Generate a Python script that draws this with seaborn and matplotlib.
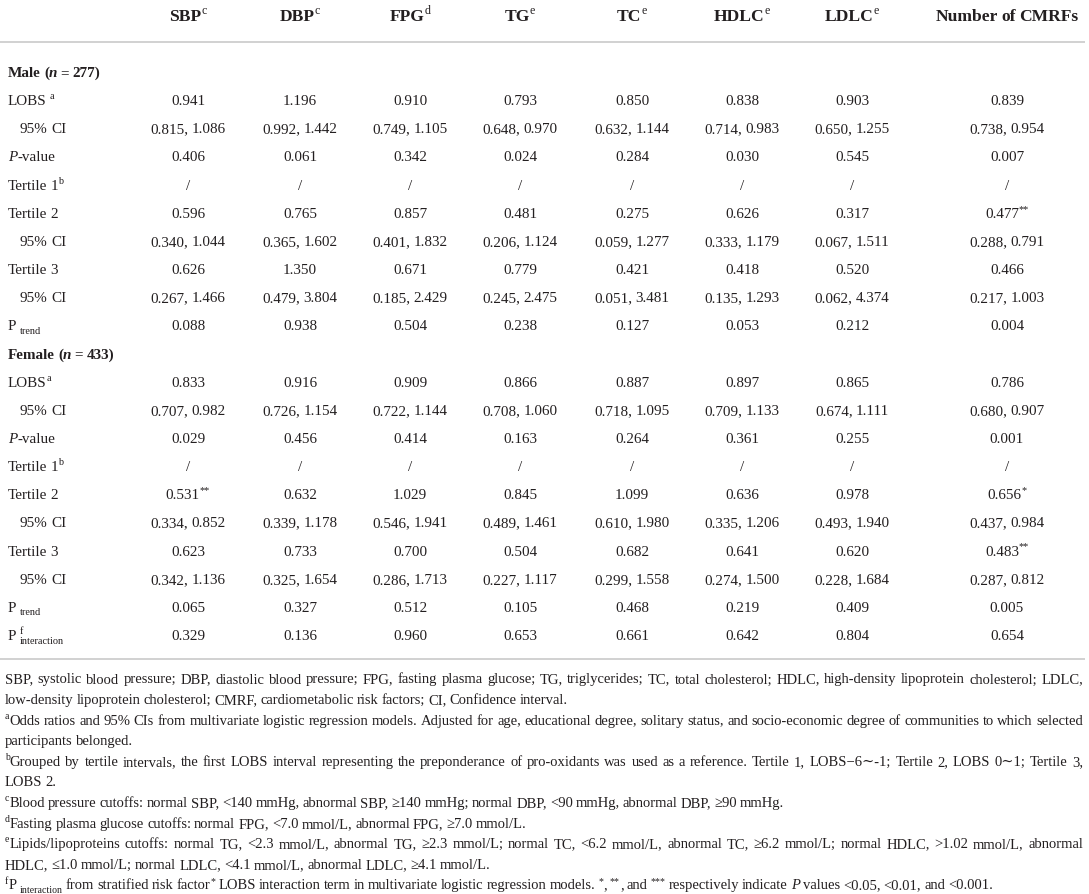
import re

import matplotlib
matplotlib.use('Agg')
import matplotlib.pyplot as plt
import seaborn as sns

# Table of odds ratios (LOBS vs cardiometabolic risk factors), drawn as text
sns.set_theme(style='white')
plt.rcParams['font.family'] = ['Liberation Serif', 'DejaVu Serif']

W, H, DPI = 1089, 895, 100
INK = '#231f20'
RULE = '#c9c9c9'

# ---- data -------------------------------------------------------------------
columns = ['SBP^{c}', 'DBP^{c}', 'FPG^{d}', 'TG^{e}', 'TC^{e}',
           'HDLC^{e}', 'LDLC^{e}', 'Number of CMRFs']

male_title = 'Male (|n| = 277)'
female_title = 'Female (|n| = 433)'

male_labels = ['LOBS ^{a}', '95% CI', '|P|-value', 'Tertile 1^{b}', 'Tertile 2',
               '95% CI', 'Tertile 3', '95% CI', 'P _{trend}']
female_labels = ['LOBS^{a}', '95% CI', '|P|-value', 'Tertile 1^{b}', 'Tertile 2',
                 '95% CI', 'Tertile 3', '95% CI', 'P _{trend}', 'P ^{f}_{interaction}']

# 9 male rows followed by 10 female rows
sbp = ['0.941', '0.815, 1.086', '0.406', '/', '0.596', '0.340, 1.044', '0.626', '0.267, 1.466', '0.088',
       '0.833', '0.707, 0.982', '0.029', '/', '0.531^{**}', '0.334, 0.852', '0.623', '0.342, 1.136', '0.065', '0.329']
dbp = ['1.196', '0.992, 1.442', '0.061', '/', '0.765', '0.365, 1.602', '1.350', '0.479, 3.804', '0.938',
       '0.916', '0.726, 1.154', '0.456', '/', '0.632', '0.339, 1.178', '0.733', '0.325, 1.654', '0.327', '0.136']
fpg = ['0.910', '0.749, 1.105', '0.342', '/', '0.857', '0.401, 1.832', '0.671', '0.185, 2.429', '0.504',
       '0.909', '0.722, 1.144', '0.414', '/', '1.029', '0.546, 1.941', '0.700', '0.286, 1.713', '0.512', '0.960']
tg = ['0.793', '0.648, 0.970', '0.024', '/', '0.481', '0.206, 1.124', '0.779', '0.245, 2.475', '0.238',
      '0.866', '0.708, 1.060', '0.163', '/', '0.845', '0.489, 1.461', '0.504', '0.227, 1.117', '0.105', '0.653']
tc = ['0.850', '0.632, 1.144', '0.284', '/', '0.275', '0.059, 1.277', '0.421', '0.051, 3.481', '0.127',
      '0.887', '0.718, 1.095', '0.264', '/', '1.099', '0.610, 1.980', '0.682', '0.299, 1.558', '0.468', '0.661']
hdlc = ['0.838', '0.714, 0.983', '0.030', '/', '0.626', '0.333, 1.179', '0.418', '0.135, 1.293', '0.053',
        '0.897', '0.709, 1.133', '0.361', '/', '0.636', '0.335, 1.206', '0.641', '0.274, 1.500', '0.219', '0.642']
ldlc = ['0.903', '0.650, 1.255', '0.545', '/', '0.317', '0.067, 1.511', '0.520', '0.062, 4.374', '0.212',
        '0.865', '0.674, 1.111', '0.255', '/', '0.978', '0.493, 1.940', '0.620', '0.228, 1.684', '0.409', '0.804']
cmrf = ['0.839', '0.738, 0.954', '0.007', '/', '0.477^{**}', '0.288, 0.791', '0.466', '0.217, 1.003', '0.004',
        '0.786', '0.680, 0.907', '0.001', '/', '0.656^{*}', '0.437, 0.984', '0.483^{**}', '0.287, 0.812', '0.005', '0.654']

values = [sbp, dbp, fpg, tg, tc, hdlc, ldlc, cmrf]

# footnote lines, True = justified to full width
footnotes = [
    ('SBP, systolic blood pressure; DBP, diastolic blood pressure; FPG, fasting plasma glucose; TG, triglycerides; '
     'TC, total cholesterol; HDLC, high-density lipoprotein cholesterol; LDLC,', True),
    ('low-density lipoprotein cholesterol; CMRF, cardiometabolic risk factors; CI, Confidence interval.', False),
    ('^{a}Odds ratios and 95% CIs from multivariate logistic regression models. Adjusted for age, educational degree, '
     'solitary status, and socio-economic degree of communities to which selected', True),
    ('participants belonged.', False),
    ('^{b}Grouped by tertile intervals, the first LOBS interval representing the preponderance of pro-oxidants was '
     'used as a reference. Tertile 1, LOBS\u22126\u223c-1; Tertile 2, LOBS 0\u223c1; Tertile 3,', True),
    ('LOBS 2.', False),
    ('^{c}Blood pressure cutoffs: normal SBP, <140 mmHg, abnormal SBP, \u2265140 mmHg; normal DBP, <90 mmHg, '
     'abnormal DBP, \u226590 mmHg.', False),
    ('^{d}Fasting plasma glucose cutoffs: normal FPG, <7.0 mmol/L, abnormal FPG, \u22657.0 mmol/L.', False),
    ('^{e}Lipids/lipoproteins cutoffs: normal TG, <2.3 mmol/L, abnormal TG, \u22652.3 mmol/L; normal TC, <6.2 mmol/L, '
     'abnormal TC, \u22656.2 mmol/L; normal HDLC, >1.02 mmol/L, abnormal', True),
    ('HDLC, \u22641.0 mmol/L; normal LDLC, <4.1 mmol/L, abnormal LDLC, \u22654.1 mmol/L.', False),
    ('^{f}P _{interaction} from stratified risk factor^{*} LOBS interaction term in multivariate logistic regression '
     'models. ^{*}, ^{**}, and ^{***} respectively indicate |P| values <0.05, <0.01, and <0.001.', False),
]

# ---- layout -----------------------------------------------------------------
col_x = [188, 300, 410, 520, 632, 742, 852, 1007]
label_x, indent_x = 8, 20
header_y, rule1_y = 15, 43
row0_y, row_step = 72, 28.15
rule2_y = 660
foot0_y, foot_step = 679, 20.6
foot_left, foot_right = 5, 1083

TABLE_PT = 10.9
HEADER_PT = 12.6
FOOT_PT = 10.5
SPACE_EM = 0.21

fig = plt.figure(figsize=(W / DPI, H / DPI), dpi=DPI)
ax = fig.add_axes([0, 0, 1, 1])
ax.set_xlim(0, W)
ax.set_ylim(H, 0)
ax.axis('off')
renderer = fig.canvas.get_renderer()

TOKEN = re.compile(r'(\^\{[^}]*\}|_\{[^}]*\}|\|[^|]*\|)')


def parse(s):
    out = []
    for tok in TOKEN.split(s):
        if not tok:
            continue
        if tok.startswith('^{'):
            out.append((tok[2:-1], 'sup'))
        elif tok.startswith('_{'):
            out.append((tok[2:-1], 'sub'))
        elif tok.startswith('|'):
            out.append((tok[1:-1], 'it'))
        else:
            out.append((tok, 'rm'))
    return out


def build(s, size, weight='normal'):
    """Make text pieces for a marked-up string; returns (pieces, width)."""
    px = size * DPI / 72
    pieces = []
    x = 0.0
    sup_start = sup_end = None
    prev = None
    for txt, kind in parse(s):
        small = kind in ('sup', 'sub')
        fs = size * 0.68 if small else size
        if kind == 'sub' and prev == 'sup':
            x = sup_start
        start = x
        dy = {'sup': -0.40 * px, 'sub': 0.24 * px}.get(kind, 0.0)
        for i, chunk in enumerate(txt.split(' ')):
            if i > 0:
                x += SPACE_EM * fs * DPI / 72
            if not chunk:
                continue
            t = ax.text(0, 0, chunk, fontsize=fs, color=INK, va='baseline', ha='left',
                        fontweight='normal' if small else weight,
                        fontstyle='italic' if kind == 'it' else 'normal')
            w = t.get_window_extent(renderer).width
            pieces.append((t, x, dy))
            x += w
        if kind == 'sup':
            sup_start, sup_end = start, x
        if kind == 'sub' and prev == 'sup':
            x = max(x, sup_end)
        prev = kind
    return pieces, x


def place(pieces, x0, y):
    for t, dx, dy in pieces:
        t.set_position((x0 + dx, y + dy))


def rich(x, y, s, size, weight='normal', ha='left'):
    pieces, w = build(s, size, weight)
    if ha == 'center':
        x -= w / 2
    place(pieces, x, y)


def justified(y, s, size, left, right):
    words = [build(wd, size) for wd in s.split(' ')]
    total = sum(w for _, w in words)
    gap = (right - left - total) / (len(words) - 1)
    x = left
    for pieces, w in words:
        place(pieces, x, y)
        x += w + gap


# header
for cx, name in zip(col_x, columns):
    rich(cx, header_y + 6, name, HEADER_PT, weight='bold', ha='center')
ax.hlines([rule1_y, rule2_y], 0, 1085, color=RULE, lw=1.2)

# body rows
row_labels = [male_title] + male_labels + [female_title] + female_labels
section_rows = {0, len(male_labels) + 1}
value_row = 0
for r, label in enumerate(row_labels):
    y = row0_y + r * row_step + 5
    if r in section_rows:
        rich(label_x, y, label, TABLE_PT, weight='bold')
        continue
    lx = indent_x if label.startswith('95%') else label_x
    rich(lx, y, label, TABLE_PT)
    for cx, col in zip(col_x, values):
        rich(cx, y, col[value_row], TABLE_PT, ha='center')
    value_row += 1

# footnotes
for i, (line, just) in enumerate(footnotes):
    y = foot0_y + i * foot_step + 4.5
    if just:
        justified(y, line, FOOT_PT, foot_left, foot_right)
    else:
        rich(foot_left, y, line, FOOT_PT)

fig.savefig('out.png', dpi=DPI, facecolor='white')
